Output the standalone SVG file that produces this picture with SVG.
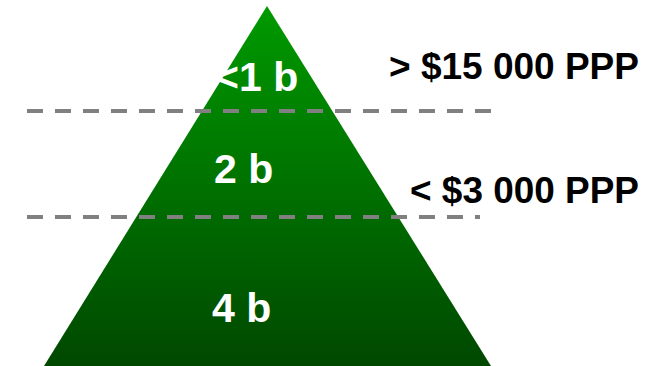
<svg xmlns="http://www.w3.org/2000/svg" width="657" height="366" viewBox="0 0 657 366">
<defs>
<linearGradient id="g" x1="0" y1="6" x2="0" y2="366" gradientUnits="userSpaceOnUse">
<stop offset="0" stop-color="#009a00"/>
<stop offset="1" stop-color="#004800"/>
</linearGradient>
<style>
.w{font-family:"Liberation Sans",Arial,sans-serif;font-weight:bold;font-size:41px;fill:#ffffff}
.k{font-family:"Liberation Sans",Arial,sans-serif;font-weight:bold;font-size:36px;fill:#000000}
.d{stroke:#808080;stroke-width:4;stroke-dasharray:16 12;fill:none}
</style>
</defs>
<rect width="657" height="366" fill="#ffffff"/>
<g id="pyramid">
<polygon points="267,6 44,366 491,366" fill="url(#g)"/>
</g>
<g id="connectors">
<line class="d" x1="27" y1="111" x2="491" y2="111"/>
<line class="d" x1="27" y1="217" x2="480" y2="217"/>
</g>
<g id="tier-top"><text class="w" x="215" y="91">&lt;1 b</text></g>
<g id="tier-middle"><text class="w" x="214" y="183">2 b</text></g>
<g id="tier-bottom"><text class="w" x="212" y="322">4 b</text></g>
<g id="label-high"><text class="k" x="389" y="79" textLength="250" lengthAdjust="spacingAndGlyphs">&gt; $15 000 PPP</text></g>
<g id="label-low"><text class="k" x="410" y="203" textLength="229" lengthAdjust="spacingAndGlyphs">&lt; $3 000 PPP</text></g>
</svg>
